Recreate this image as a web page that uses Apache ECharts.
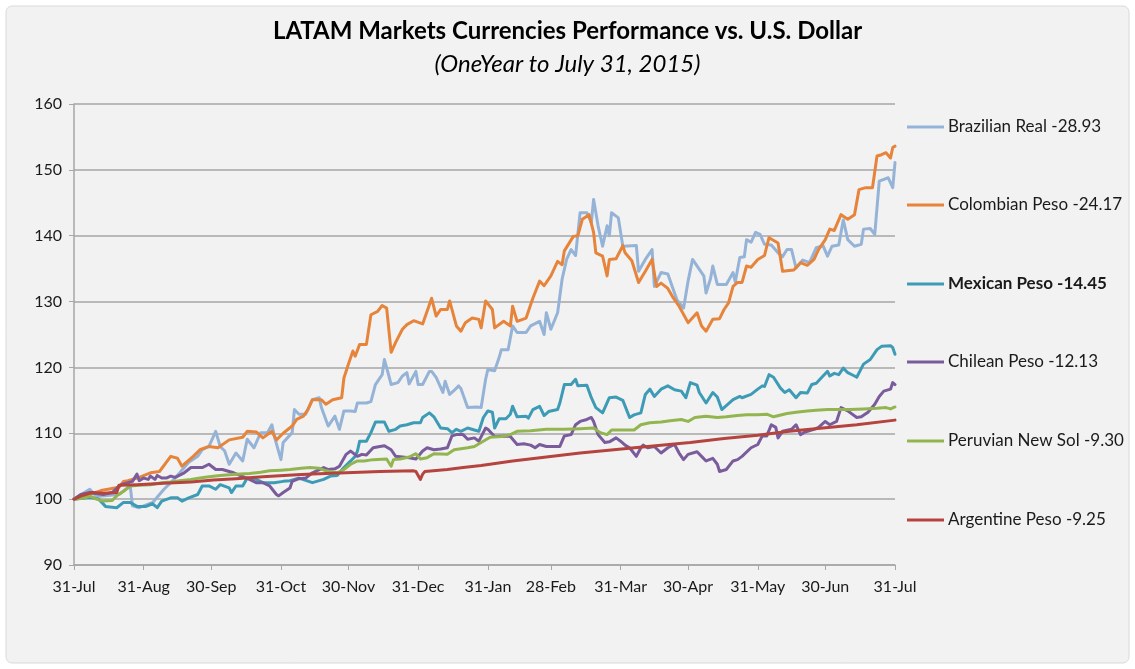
<!DOCTYPE html>
<html>
<head>
<meta charset="utf-8">
<script src="https://cdn.jsdelivr.net/npm/echarts@6/dist/echarts.min.js"></script>
<style>
html,body{margin:0;padding:0;background:#ffffff;}
#chart{width:1135px;height:669px;}
</style>
</head>
<body>
<div id="chart"></div>
<script>
// ---- data (day offset from 31-Jul-2014, index value) ----
const tickDays = [0,31,61,92,122,153,184,212,243,273,304,334,365];
const tickLabels = ['31-Jul','31-Aug','30-Sep','31-Oct','30-Nov','31-Dec','31-Jan','28-Feb','31-Mar','30-Apr','31-May','30-Jun','31-Jul'];
const yTicks = [90,100,110,120,130,140,150,160];

const seriesNames = ['Brazilian Real -28.93','Colombian Peso -24.17','Mexican Peso -14.45','Chilean Peso -12.13','Peruvian New Sol -9.30','Argentine Peso -9.25'];

const brazil = [[0,100],[7,101.5],[10,100.4],[16,100.6],[20,100.7],[25,102],[26,99],[29,98.7],[35,99.5],[40,101.5],[43,102.5],[47,104],[51,105.6],[55,106.5],[57,107.5],[60,108],[63,110.3],[65,108],[67,107.3],[69,105.3],[72,107],[75,105.8],[77,109.1],[80,107.8],[83,110.1],[86,110.1],[88,111.3],[89,109.6],[92,106],[93,108.6],[97,110.1],[98,113.6],[100,112.9],[103,112.9],[106,115.1],[109,115.4],[110,113.9],[113,111.1],[116,112.6],[118,110.6],[120,113.4],[123,113.4],[125,113.3],[126,114.6],[130,114.6],[132,114.8],[134,117.4],[137,118.9],[138,121.2],[140,118.7],[141,117.4],[144,117.7],[146,118.7],[148,119.2],[149,117.5],[152,119.4],[153,117.4],[155,117.4],[158,119.4],[159,119.4],[161,118.5],[164,116.2],[165,117.9],[167,115.9],[169,116.5],[171,117.2],[172,116.8],[175,113.9],[179,114],[181,113.9],[183,118.2],[184,119.7],[187,119.5],[189,121.5],[190,122.7],[193,122.7],[195,126.3],[197,125.3],[201,125.3],[203,126.3],[207,127],[209,125],[210,128.3],[212,125.8],[215,128.3],[217,133.4],[219,136.4],[221,137.9],[223,137],[225,143.5],[228,143.5],[230,142],[231,145.5],[233,141.5],[235,138.4],[237,141.5],[238,140],[239,143.5],[242,142.7],[244,138.4],[250,138.5],[251,134.6],[254,136.4],[257,137.9],[258,132.3],[261,134.4],[264,134.2],[268,130.3],[271,129],[273,133.1],[275,136.4],[279,134.4],[280,133.9],[281,131.3],[283,133.5],[284,135.4],[286,132.6],[290,132.6],[293,134.4],[294,133],[296,136.7],[298,136.8],[299,139.4],[301,139],[303,140.5],[305,140.2],[307,138.7],[310,138.6],[313,137.4],[315,136.8],[317,137.9],[319,137.9],[321,135.1],[324,136.3],[327,135.9],[330,138.2],[333,138.5],[335,136.9],[337,138.4],[340,138.6],[342,142.4],[344,139.4],[347,138.4],[350,138.7],[351,141],[354,141.1],[356,140.2],[358,148.3],[362,148.8],[364,147.3],[365,151.1]];

const colombia = [[0,100],[5,100.5],[12,101.3],[20,101.8],[22,102.7],[24,102.8],[29,103.3],[34,104],[38,104.2],[43,106.5],[46,106.2],[48,105],[53,106.5],[56,107.5],[60,108],[64,107.8],[69,109],[75,109.4],[77,110.3],[81,110.2],[84,109.3],[88,110.3],[90,109],[93,110],[97,111.1],[99,112.1],[102,112.6],[104,113.6],[106,115.1],[110,115.1],[112,114.4],[115,115.1],[119,115.4],[120,118.4],[122,120.5],[124,122.5],[125,121.7],[127,123.5],[130,123.5],[132,128],[135,128.5],[137,129.4],[139,129],[141,122.3],[143,123.8],[146,125.8],[148,126.5],[151,127.1],[155,126.6],[159,130.5],[161,127.8],[163,128.8],[166,128.8],[167,130.1],[170,126.3],[172,125.5],[174,126.8],[177,127.5],[180,127.3],[181,126],[183,130.1],[186,128.8],[187,126],[191,127],[194,126.3],[195,129.3],[197,127],[201,127.5],[204,130.5],[207,133.1],[209,132.4],[212,133.9],[215,136.1],[217,135.6],[218,137.7],[222,139.9],[224,140],[226,142.5],[229,143.2],[231,140.5],[232,137.4],[235,136.9],[237,133.9],[238,136.4],[241,136.5],[244,138.5],[245,137.4],[248,136.2],[251,132.9],[254,134.6],[257,136.4],[259,132.3],[261,132.8],[264,132],[266,130.8],[269,129.3],[273,126.8],[277,128.3],[279,126.3],[281,125.5],[284,127.3],[287,127.4],[289,128.8],[291,129.8],[293,132.3],[295,132.9],[297,132.9],[299,135.4],[301,135.2],[304,136.4],[307,137],[308,138.4],[309,139.7],[313,138.9],[315,134.6],[320,134.8],[323,135.9],[326,135.5],[329,136.4],[331,137.9],[334,139.4],[336,141],[338,140.8],[341,143.2],[344,142.5],[347,143.2],[349,147],[352,147.3],[355,147.3],[357,152.1],[359,152.3],[361,152.6],[363,151.8],[364,153.4],[365,153.6]];

const mexico = [[0,100],[7,100.3],[11,100],[14,98.9],[19,98.7],[22,99.5],[25,99.5],[28,98.9],[32,98.9],[35,99.3],[37,98.7],[39,99.7],[43,100.2],[46,100.2],[48,99.7],[51,100.2],[55,100.7],[57,102],[60,102],[63,101.5],[65,102.2],[69,101.7],[70,101],[72,102],[75,102],[77,103.2],[81,103],[84,102.5],[89,102.5],[93,102.7],[96,102.8],[100,103.2],[106,102.5],[111,103],[114,103.5],[117,103.6],[120,104.8],[123,105.8],[125,106.5],[126,107.3],[127,108.8],[130,108.8],[132,110.1],[134,111.7],[138,111.7],[140,110.3],[143,110.6],[145,111.1],[148,111.3],[151,111.6],[154,111.6],[155,112.4],[158,113.1],[160,112.5],[163,110.8],[166,110.7],[168,110.1],[170,110.6],[172,110.3],[175,110.8],[178,110.5],[180,110.3],[182,112.4],[184,113.4],[186,113.2],[187,110.8],[189,112.2],[192,112.2],[194,112.9],[195,114.1],[197,112.5],[201,112.6],[202,112.3],[204,113.6],[207,114.1],[209,112.7],[211,113.3],[215,113.6],[216,114.6],[218,117.4],[221,117.4],[223,118.2],[224,117.2],[228,117.3],[230,115.4],[232,113.9],[235,113.1],[238,115.4],[241,115.5],[244,115],[247,112.4],[249,112.8],[252,113.1],[254,115.9],[256,116.7],[258,115.6],[261,116.7],[264,117.2],[267,116.6],[270,116.4],[272,115.4],[274,117.7],[277,117.3],[278,116.2],[281,114.6],[284,116.2],[286,115.5],[288,113.6],[290,114.2],[293,115.1],[296,115.6],[297,115.4],[301,115.9],[304,116.7],[306,117.2],[307,117.1],[309,118.9],[311,118.5],[314,116.9],[316,116.2],[318,116.6],[321,115.4],[323,116.2],[326,116.1],[328,117.4],[330,117.6],[333,118.7],[335,119.4],[336,118.7],[338,119.1],[340,118.9],[342,119.9],[344,119.2],[347,118.7],[348,118.5],[351,120.5],[354,121.2],[357,122.7],[359,123.2],[363,123.3],[364,123],[365,122]];

const chile = [[0,100],[3,100.7],[7,101],[13,100.7],[17,101],[20,102],[22,102.3],[26,102.7],[28,103.8],[29,102.8],[31,103.2],[33,103],[34,103.5],[36,103],[37,103.6],[39,103.2],[41,103.2],[43,103.5],[45,103.3],[49,104],[52,104.8],[57,104.8],[60,105.3],[63,104.5],[66,104.5],[69,104.2],[71,104],[78,103],[81,102.5],[84,102.5],[87,102],[90,100.7],[91,100.5],[93,101],[96,101.7],[97,102.7],[100,103.1],[103,103.2],[106,104],[111,104.8],[113,104.5],[116,104.6],[118,105],[121,106.8],[123,107.3],[126,106.5],[128,106.8],[130,106.7],[133,107.8],[136,108],[138,108.1],[141,107.5],[143,106.5],[146,106.4],[149,106.3],[152,106.1],[155,107.3],[157,107.8],[160,107.5],[163,107.6],[166,107.8],[168,109.6],[170,109.8],[173,109.8],[175,109.1],[178,109.3],[180,108.8],[183,110.8],[184,110.6],[187,109.5],[192,109.6],[194,109.5],[197,108.3],[200,108.4],[203,108.2],[205,107.8],[207,108.3],[210,108],[216,108],[218,109.6],[221,109.8],[223,111.3],[225,111.8],[228,112.1],[230,112.4],[231,111.8],[233,109.8],[236,108.6],[238,108.7],[241,109.3],[243,108.8],[245,108.2],[247,107.8],[250,106.5],[252,107.8],[253,108.2],[255,107.8],[258,108],[261,107],[264,107.8],[267,108.3],[269,107],[271,106],[273,106.8],[277,107.2],[279,106.5],[281,105.8],[284,106.2],[286,105.3],[287,104.2],[290,104.5],[293,105.8],[295,106],[297,106.5],[301,107.8],[304,108.3],[306,109.6],[308,109.6],[310,111.3],[312,110.9],[313,109.3],[315,110.3],[319,110.6],[321,111.3],[323,109.8],[325,110.2],[329,110.6],[331,110.9],[334,111.8],[336,111.3],[339,111.8],[341,113.9],[344,113.4],[348,112.4],[350,112.5],[353,113.2],[356,114.4],[358,115.6],[360,116.4],[363,116.7],[364,117.7],[365,117.4]];

const peru = [[0,100],[5,100.2],[7,100.5],[10,100],[13,99.7],[17,99.8],[19,100.5],[22,101.2],[25,102],[29,102.1],[34,102.2],[39,102.5],[43,102.6],[47,102.8],[52,103],[56,103.2],[60,103.4],[65,103.6],[69,103.7],[74,103.8],[78,103.9],[83,104.1],[87,104.3],[92,104.4],[96,104.5],[101,104.7],[105,104.8],[109,104.7],[112,104.3],[117,104],[120,104.5],[123,105.3],[126,105.8],[129,105.8],[133,106],[139,106.1],[141,105],[142,106],[145,106.1],[149,106.4],[152,106.9],[154,106.1],[157,106.3],[160,106.9],[166,106.8],[169,107.5],[175,107.8],[178,108],[181,108.6],[185,109.4],[190,109.5],[194,109.8],[197,110.3],[203,110.4],[210,110.6],[218,110.6],[225,110.7],[231,110.8],[234,110.1],[237,109.8],[239,110.5],[244,110.5],[249,110.5],[252,111.3],[256,111.6],[261,111.7],[265,111.9],[270,112.1],[273,111.8],[276,112.4],[281,112.6],[286,112.4],[290,112.5],[295,112.7],[299,112.8],[304,112.8],[308,112.9],[311,112.5],[317,113],[321,113.2],[326,113.4],[330,113.5],[335,113.6],[340,113.6],[345,113.6],[351,113.7],[357,113.8],[361,113.9],[363,113.7],[365,114]];

const argentina = [[0,100],[4,100.6],[8,101],[13,100.9],[19,101],[20,102.1],[28,102.2],[40,102.4],[52,102.6],[62,102.9],[72,103.1],[84,103.4],[99,103.7],[106,103.8],[121,104],[136,104.2],[151,104.3],[152,104.2],[154,103],[155,103.8],[156,104.2],[166,104.5],[173,104.8],[181,105.1],[195,105.8],[210,106.4],[225,107],[240,107.5],[255,108],[274,108.6],[289,109.2],[304,109.7],[318,110.3],[333,110.8],[348,111.3],[365,112]];

const seriesData = [brazil, colombia, mexico, chile, peru, argentina];
const seriesColors = ['#95b3d7','#e6843b','#3d9bb6','#7a5c9d','#93b550','#b5443f'];
const legendCenters = [122, 200, 279, 357, 436, 515];

const FONT = 'Lato, "Noto Sans", sans-serif';
const chart = echarts.init(document.getElementById('chart'), null, {renderer:'canvas'});

const legends = seriesNames.map((n,i)=>({
  data:[n],
  orient:'vertical',
  left:902,
  top:legendCenters[i]-10,
  itemWidth:37,
  itemHeight:3,
  itemGap:4,
  icon:'rect',
  selectedMode:false,
  textStyle:{fontFamily:FONT,fontSize:17,color:'#1a1a1a',lineHeight:20,padding:[0,0,0,-1],fontWeight:(i===2?'bold':'normal')}
}));

chart.setOption({
  animation:false,
  backgroundColor:'transparent',
  graphic:[
    {type:'rect',z:-100,silent:true,shape:{x:6,y:6,width:1123,height:657,r:6},style:{fill:'#f2f2f2',stroke:'#d9d9d9',lineWidth:1}},
    {type:'text',z:10,left:'center',top:19,style:{text:'LATAM Markets Currencies Performance vs. U.S. Dollar',font:'bold 24px '+FONT,fill:'#000'}},
    {type:'text',z:10,left:'center',top:52,style:{text:'(OneYear to July 31, 2015)',font:'italic 24px '+FONT,fill:'#000'}}
  ],
  legend:legends,
  grid:{left:74,right:240,top:104,bottom:104,containLabel:false},
  xAxis:{
    type:'value',min:0,max:365,
    axisLine:{show:true,onZero:false,lineStyle:{color:'#a6a6a6',width:1.5}},
    axisTick:{show:true,customValues:tickDays,length:5,lineStyle:{color:'#a6a6a6',width:1}},
    axisLabel:{customValues:tickDays,margin:14,fontFamily:FONT,fontSize:16,color:'#1a1a1a',
      formatter:function(v){const k=tickDays.indexOf(Math.round(v));return k>=0?tickLabels[k]:'';}},
    splitLine:{show:false}
  },
  yAxis:{
    type:'value',min:90,max:160,interval:10,
    axisLine:{show:true,lineStyle:{color:'#a6a6a6',width:1.5}},
    axisTick:{show:true,length:5,lineStyle:{color:'#a6a6a6'}},
    axisLabel:{margin:12,fontFamily:FONT,fontSize:16,color:'#1a1a1a'},
    splitLine:{show:true,lineStyle:{color:'#a6a6a6',width:1.5}}
  },
  series:seriesNames.map((n,i)=>({
    name:n,type:'line',data:seriesData[i],showSymbol:false,symbol:'none',
    lineStyle:{color:seriesColors[i],width:3,join:'round',cap:'round'},
    itemStyle:{color:seriesColors[i]},
    z:2+i
  }))
});
</script>
</body>
</html>
